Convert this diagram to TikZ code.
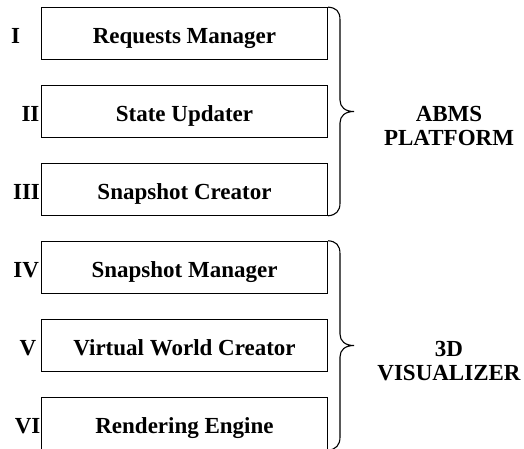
\documentclass[tikz,border=0pt]{standalone}
\usepackage{fontspec}
\setmainfont{Liberation Serif}
\usetikzlibrary{calc}
\tikzset{
  box/.style={draw, line width=1.1pt, minimum width=286pt, minimum height=52pt,
    inner sep=0pt, text height=25pt, text depth=5pt, font=\fontsize{23}{24}\selectfont\bfseries},
  num/.style={inner sep=0pt, font=\fontsize{23}{24}\selectfont\bfseries},
  grp/.style={inner sep=0pt, anchor=base, font=\fontsize{23}{24}\selectfont\bfseries},
  brc/.style={line width=1.1pt}
}
\begin{document}
\begin{tikzpicture}[x=1pt,y=-1pt]
\useasboundingbox (0,0) rectangle (524,448);
\node[box] (b1) at (184.5,33.7) {Requests Manager};
\node[box] (b2) at (184.5,111.2) {State Updater};
\node[box] (b3) at (184.5,189.2) {Snapshot Creator};
\node[box] (b4) at (184.5,267.3) {Snapshot Manager};
\node[box] (b5) at (184.5,345.2) {Virtual World Creator};
\node[box] (b6) at (184.5,423.6) {Rendering Engine};
% numerals
\node[num, anchor=base] (n1) at ($(b1.west)+(-25.3,10)$) {I};
\node[num, anchor=base east] (n2) at ($(b2.west)+(-1.3,10)$) {II};
\node[num, anchor=base east] (n3) at ($(b3.west)+(-0.8,10)$) {III};
\node[num, anchor=base east] (n4) at ($(b4.west)+(-1.8,10)$) {IV};
\node[num, anchor=base] (n5) at ($(b5.west)+(-13,10)$) {V};
\node[num, anchor=base east] (n6) at ($(b6.west)+(-0.3,10)$) {VI};
% braces
\coordinate (t1) at (354,111.5);
\coordinate (t2) at (354,345.5);
\draw[brc] (b1.north east) .. controls (336,7.7) and (340,11) .. (340,20)
  -- (340,100) .. controls (340,107) and (345,111.5) .. (t1)
  .. controls (345,111.5) and (340,116) .. (340,123)
  -- (340,203) .. controls (340,211) and (336,215.2) .. (b3.south east);
\draw[brc] (b4.north east) .. controls (336,241.3) and (340,245) .. (340,254)
  -- (340,334) .. controls (340,341) and (345,345.5) .. (t2)
  .. controls (345,345.5) and (340,350) .. (340,357)
  -- (340,437) .. controls (340,445) and (336,449.6) .. (b6.south east);
% group labels
\node[grp] (g1a) at (449,121.7) {ABMS};
\node[grp] (g1b) at (449,145) {PLATFORM};
\node[grp] (g2a) at (449,356) {3D};
\node[grp] (g2b) at (449,380) {VISUALIZER};
\end{tikzpicture}
\end{document}
